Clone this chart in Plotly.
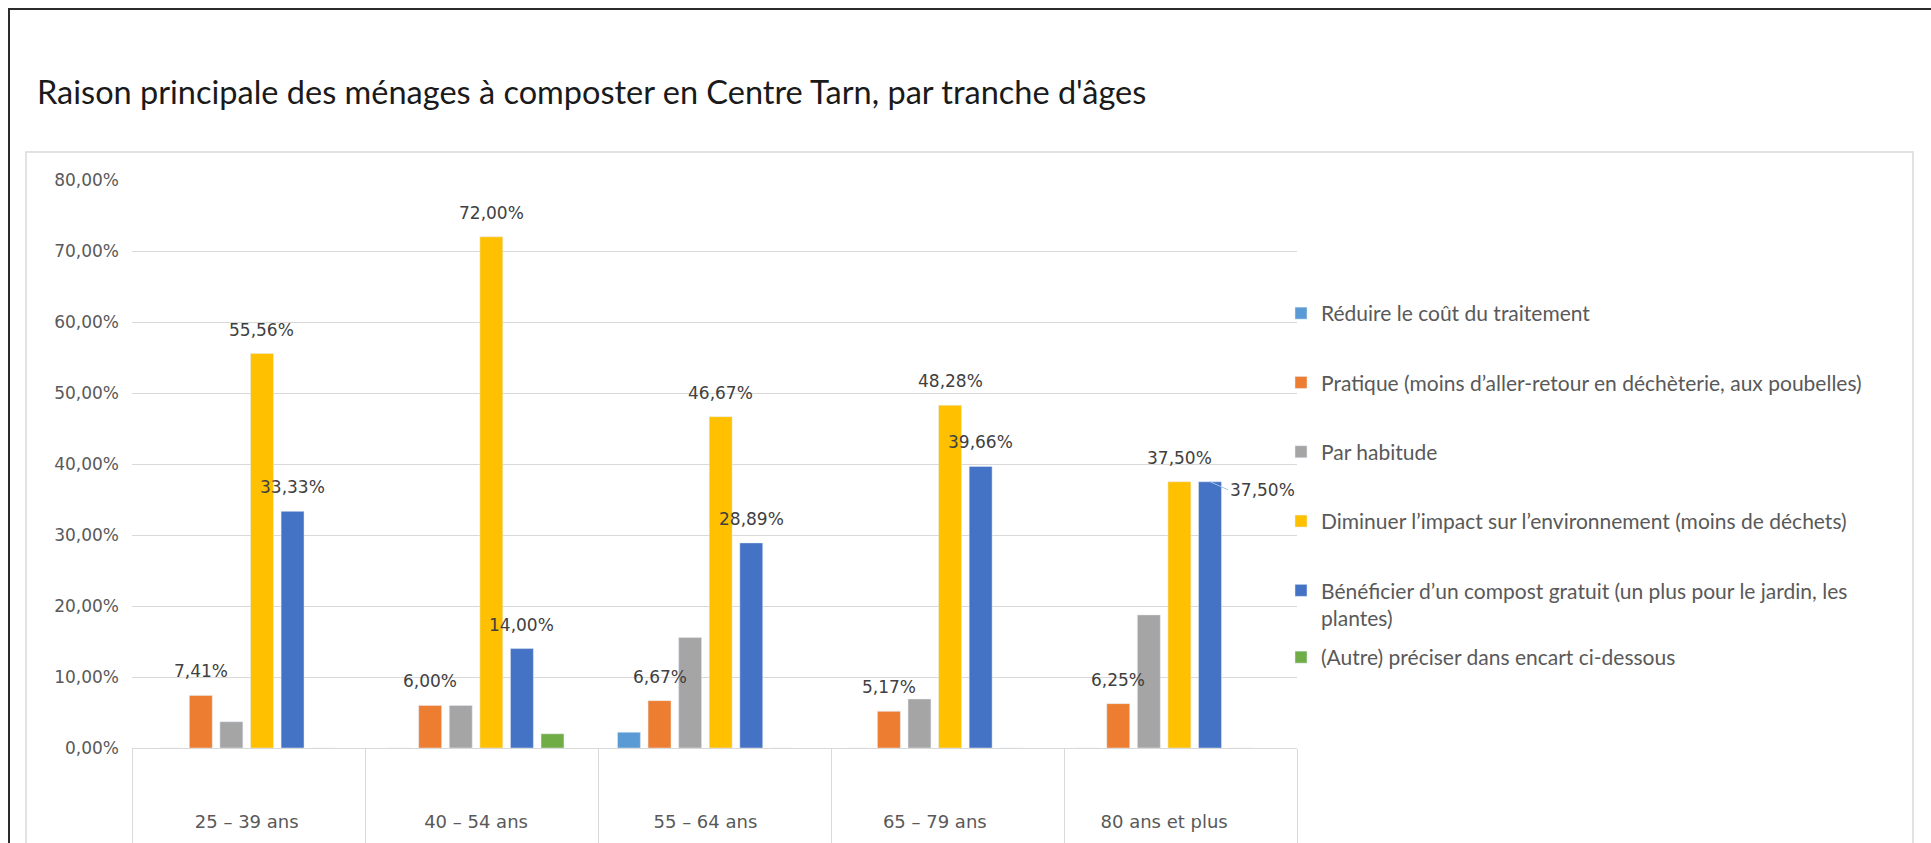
import plotly.graph_objects as go

# tranches d'âges
categories = ["25 – 39 ans", "40 – 54 ans", "55 – 64 ans", "65 – 79 ans", "80 ans et plus"]

# raisons (en %)
reduire = [0, 0, 2.22, 0, 0]
pratique = [7.41, 6.00, 6.67, 5.17, 6.25]
habitude = [3.70, 6.00, 15.56, 6.90, 18.75]
diminuer = [55.56, 72.00, 46.67, 48.28, 37.50]
beneficier = [33.33, 14.00, 28.89, 39.66, 37.50]
autre = [0, 2.00, 0, 0, 0]

series_names = [
    "Réduire le coût du traitement",
    "Pratique (moins d’aller-retour en déchèterie, aux poubelles)",
    "Par habitude",
    "Diminuer l’impact sur l’environnement (moins de déchets)",
    "Bénéficier d’un compost gratuit (un plus pour le jardin, les<br>plantes)",
    "(Autre) préciser dans encart ci-dessous",
]
series_values = [reduire, pratique, habitude, diminuer, beneficier, autre]
colors = ["#5B9BD5", "#ED7D31", "#A5A5A5", "#FFC000", "#4472C4", "#70AD47"]
labelled = [False, True, False, True, True, False]

W, H = 1931, 843
L, R, T, B = 132, 634, 180, 95
PW, PH = W - L - R, H - T - B
BARGAP = 0.2
BARW = 0.1


def px_x(px):
    return (px - L) / PW


def px_y(py):
    return (H - B - py) / PH


num_font = "DejaVu Sans"
txt_font = "Lato"

fig = go.Figure()
for i, (name, vals) in enumerate(zip(series_names, series_values)):
    fig.add_trace(go.Bar(
        x=categories, y=vals, name=name,
        marker_color=colors[i], width=BARW,
        legendgroup=str(i),
        legend="legend2" if i == 5 else "legend",
    ))

# trace vide pour porter l'axe des séparateurs de catégories
fig.add_trace(go.Scatter(
    x=categories, y=[None] * len(categories), xaxis="x2",
    showlegend=False, hoverinfo="skip", mode="markers",
))

# étiquettes de données
slot = (1 - BARGAP) / len(series_values)
annotations = []
for s, vals in enumerate(series_values):
    if not labelled[s]:
        continue
    for c, v in enumerate(vals):
        xpos = c + (s - (len(series_values) - 1) / 2) * slot
        txt = f"{v:.2f}".replace(".", ",") + "%"
        if s == 4 and c == len(categories) - 1:
            annotations.append(dict(
                x=xpos, y=v, xref="x", yref="y", text=txt,
                showarrow=True, arrowhead=0, arrowwidth=1, arrowcolor="#9DC3E6",
                ax=18, ay=8, xanchor="left", yanchor="middle", standoff=0,
                font=dict(family=num_font, size=17, color="#404040"),
            ))
        else:
            annotations.append(dict(
                x=xpos, y=v, xref="x", yref="y", text=txt, showarrow=False,
                yshift=24, font=dict(family=num_font, size=17, color="#404040"),
            ))

shapes = [
    # cadre extérieur
    dict(type="rect", xref="paper", yref="paper",
         x0=px_x(9), y0=px_y(9), x1=px_x(1960), y1=px_y(880),
         line=dict(color="#2b2b2b", width=2), layer="below"),
    # cadre de la zone de graphique
    dict(type="rect", xref="paper", yref="paper",
         x0=px_x(26), y0=px_y(152), x1=px_x(1913), y1=px_y(880),
         line=dict(color="#D9D9D9", width=1.5), layer="below"),
]

fig.update_layout(
    width=W, height=H,
    margin=dict(l=L, r=R, t=T, b=B),
    paper_bgcolor="white", plot_bgcolor="white",
    separators=", ",
    barmode="group", bargap=BARGAP,
    title=dict(
        text="Raison principale des ménages à composter en Centre Tarn, par tranche d'âges",
        x=37 / W, xanchor="left", xref="container",
        y=1 - 93 / H, yanchor="middle", yref="container",
        font=dict(family=txt_font, size=32.5, color="#1a1a1a"),
    ),
    xaxis=dict(
        type="category", showgrid=False, zeroline=False, automargin=False,
        showline=True, linecolor="#D9D9D9", linewidth=1,
        ticks="", ticklabelstandoff=57,
        tickfont=dict(family=num_font, size=18, color="#595959"),
    ),
    xaxis2=dict(
        type="category", overlaying="x", anchor="y", side="bottom",
        range=[-0.5, len(categories) - 0.5], automargin=False,
        tickson="boundaries",
        ticks="outside", ticklen=100, tickcolor="#D9D9D9", tickwidth=1,
        showticklabels=False, showgrid=False, zeroline=False, showline=False,
    ),
    yaxis=dict(
        range=[0, 80], dtick=10, tickformat=".2f", ticksuffix="%",
        showgrid=True, gridcolor="#D9D9D9", gridwidth=1, zeroline=False,
        ticks="", ticklabelstandoff=12, automargin=False,
        tickfont=dict(family=num_font, size=17, color="#595959"),
    ),
    legend=dict(
        x=px_x(1281), xanchor="left", y=px_y(293), yanchor="top",
        tracegroupgap=39, valign="top",
        font=dict(family=txt_font, size=21, color="#595959"),
        bgcolor="rgba(0,0,0,0)",
    ),
    legend2=dict(
        x=px_x(1281), xanchor="left", y=px_y(637), yanchor="top",
        valign="top",
        font=dict(family=txt_font, size=21, color="#595959"),
        bgcolor="rgba(0,0,0,0)",
    ),
    annotations=annotations,
    shapes=shapes,
)

fig.write_html(
    "out.html",
    config={"displayModeBar": False},
    post_script="document.body.style.margin='0';document.body.style.overflow='hidden';",
)
